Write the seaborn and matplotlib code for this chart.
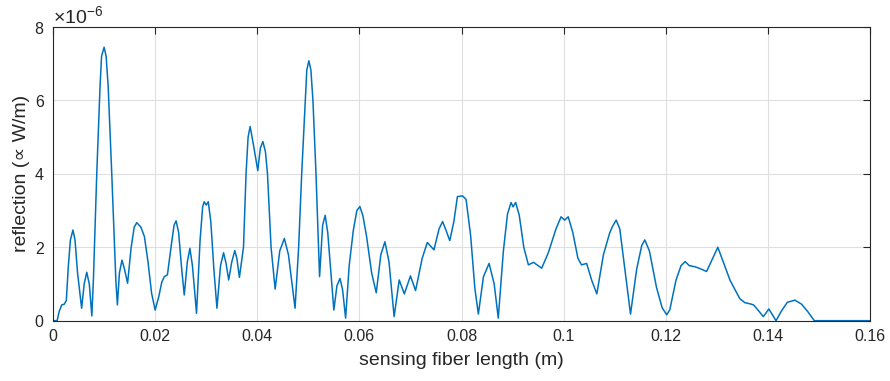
import numpy as np
import pandas as pd
import matplotlib
matplotlib.use("Agg")
import matplotlib.pyplot as plt
import seaborn as sns
from matplotlib.ticker import ScalarFormatter

# sensing fiber position (units of 1e-3 m)
pos_mm = [0, 0.8, 1.2, 1.7, 2.2, 2.6, 3.0, 3.4, 3.9, 4.3, 4.8, 5.6, 6.1, 6.6, 7.1, 7.6, 7.9,
          8.56, 9.2, 9.5, 10.0, 10.4, 10.8, 11.5, 12.3, 12.6, 13.0, 13.5, 14.0, 14.6, 15.3,
          15.9, 16.4, 17.2, 17.9, 18.6, 19.3, 20.0, 20.7, 21.3, 21.8, 22.4, 23.2, 23.7, 24.1,
          24.6, 25.2, 25.7, 26.3, 26.8, 27.3, 28.1, 28.8, 29.3, 29.6, 30.0, 30.4, 30.9, 31.5,
          32.1, 32.8, 33.4, 33.9, 34.4, 35.0, 35.6, 36.0, 36.5, 37.3, 37.8, 38.2, 38.6, 39.2,
          40.1, 40.6, 41.1, 41.6, 42.0, 42.7, 43.5, 44.4, 45.3, 46.1, 47.4, 48.1, 48.7, 49.4,
          49.7, 50.1, 50.5, 50.9, 51.5, 52.2, 52.8, 53.3, 53.8, 55.0, 55.6, 56.2, 56.7, 57.3,
          58.0, 58.8, 59.5, 60.1, 60.7, 61.4, 62.4, 63.3, 64.2, 65.0, 65.8, 66.8, 67.8, 68.8,
          70.0, 71.0, 72.3, 73.3, 74.6, 75.6, 76.3, 77.0, 77.7, 78.5, 79.2, 80.2, 80.9, 81.8,
          82.6, 83.3, 84.3, 85.4, 86.4, 87.2, 88.2, 89.0, 89.7, 90.1, 90.6, 91.3, 92.2, 93.1,
          94.1, 95.7, 97.0, 98.5, 99.5, 100.2, 100.9, 101.8, 102.8, 103.5, 104.5, 105.5,
          106.5, 107.8, 109.0, 109.5, 110.3, 111.0, 112.0, 113.1, 114.3, 115.3, 115.9, 116.8,
          118.2, 119.3, 120.2, 120.8, 122.0, 123.0, 123.8, 124.6, 125.7, 126.7, 128.0, 129.2,
          130.2, 131.6, 132.6, 133.6, 134.5, 135.5, 136.5, 137.2, 138.3, 139.1, 140.2, 141.6,
          142.6, 143.8, 145.3, 146.6, 147.8, 149.1, 160.0]
# reflection (units of 1e-6 W/m)
refl_u = [0, 0, 0.25, 0.43, 0.45, 0.55, 1.5, 2.2, 2.47, 2.2, 1.3, 0.34, 1.0, 1.32, 1.0, 0.13, 1.1,
          4.0, 6.37, 7.2, 7.45, 7.2, 6.37, 4.0, 1.1, 0.43, 1.3, 1.65, 1.4, 1.02, 2.0,
          2.55, 2.67, 2.55, 2.29, 1.6, 0.75, 0.29, 0.65, 1.05, 1.2, 1.25, 2.1, 2.6, 2.72,
          2.4, 1.4, 0.70, 1.6, 1.97, 1.5, 0.2, 2.2, 3.1, 3.24, 3.15, 3.24, 2.7, 1.4,
          0.34, 1.5, 1.85, 1.55, 1.11, 1.6, 1.91, 1.7, 1.18, 2.0, 4.0, 5.0, 5.29, 4.83,
          4.09, 4.7, 4.88, 4.6, 4.0, 2.0, 0.86, 1.9, 2.24, 1.8, 0.34, 2.0, 4.0, 6.01,
          6.83, 7.08, 6.83, 6.0, 4.0, 1.2, 2.6, 2.87, 2.4, 0.29, 0.95, 1.15, 0.85, 0.07,
          1.5, 2.45, 3.0, 3.11, 2.85, 2.3, 1.3, 0.76, 1.8, 2.15, 1.6, 0.11, 1.11, 0.73,
          1.22, 0.82, 1.7, 2.13, 1.93, 2.5, 2.70, 2.45, 2.18, 2.7, 3.38, 3.40, 3.3, 2.3,
          0.9, 0.18, 1.2, 1.56, 1.0, 0.07, 1.9, 2.9, 3.22, 3.1, 3.22, 2.88, 2.0, 1.52,
          1.59, 1.43, 1.85, 2.5, 2.83, 2.74, 2.83, 2.4, 1.7, 1.52, 1.56, 1.1,
          0.73, 1.8, 2.38, 2.55, 2.74, 2.5, 1.4, 0.18, 1.4, 2.05, 2.20, 1.9,
          0.9, 0.35, 0.16, 0.3, 1.1, 1.5, 1.61, 1.5, 1.47, 1.42, 1.34, 1.7,
          2.0, 1.47, 1.1, 0.84, 0.6, 0.49, 0.46, 0.43, 0.25, 0.11, 0.32, 0.0,
          0.25, 0.5, 0.56, 0.45, 0.25, 0.0, 0.0]

x_ticks = [0, 0.02, 0.04, 0.06, 0.08, 0.1, 0.12, 0.14, 0.16]
x_tick_labels = ["0", "0.02", "0.04", "0.06", "0.08", "0.1", "0.12", "0.14", "0.16"]
y_ticks_u = [0, 2, 4, 6, 8]

df = pd.DataFrame({"x": np.array(pos_mm) * 1e-3, "y": np.array(refl_u) * 1e-6})

sns.set_style("whitegrid")
plt.rcParams["font.family"] = ["Liberation Sans", "DejaVu Sans"]
plt.rcParams["mathtext.fontset"] = "custom"
plt.rcParams["mathtext.rm"] = "Liberation Sans"

fig = plt.figure(figsize=(8.9, 3.81), dpi=100)
ax = fig.add_axes([0.0596, 0.1583, 0.9179, 0.7708])

sns.lineplot(data=df, x="x", y="y", ax=ax, color="#0072BD", linewidth=1.1,
             estimator=None, sort=False)

ax.set_xlim(0, 0.16)
ax.set_ylim(0, 8e-6)
ax.set_xticks(x_ticks)
ax.set_xticklabels(x_tick_labels)
ax.set_yticks([v * 1e-6 for v in y_ticks_u])
fmt = ScalarFormatter(useMathText=True)
fmt.set_powerlimits((0, 0))
ax.yaxis.set_major_formatter(fmt)

ax.grid(True, color="#dfdfdf", linewidth=0.8)
ax.set_facecolor("white")
for s in ax.spines.values():
    s.set_visible(True)
    s.set_color("#262626")
    s.set_linewidth(0.8)
ax.tick_params(direction="in", length=5, width=0.8, color="#262626",
               top=True, right=True, labelsize=11.5, labelcolor="#262626", pad=6)
ax.yaxis.get_offset_text().set_fontsize(14)
ax.yaxis.get_offset_text().set_color("#262626")

ax.set_xlabel("sensing fiber length (m)", fontsize=14, color="#262626", labelpad=6)
ax.set_ylabel("reflection (\u221d W/m)", fontsize=14, color="#262626", labelpad=3)

fig.savefig("out.png", dpi=100, facecolor="white")
